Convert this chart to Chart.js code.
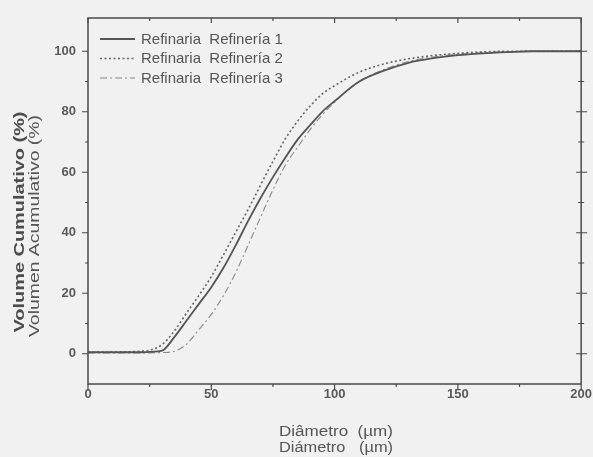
<!DOCTYPE html>
<html>
<head>
<meta charset="utf-8">
<script src="https://cdn.jsdelivr.net/npm/chart.js@4/dist/chart.umd.min.js"></script>
<style>
  html, body { margin: 0; padding: 0; background: #f1f1f1; }
  #wrap { width: 593px; height: 457px; position: relative; }
</style>
</head>
<body>
<div id="wrap"><canvas id="chart"></canvas></div>
<script>
// Data
const diameters = [0, 10, 20, 25, 30, 35, 40, 45, 50, 55, 60, 65, 70, 75, 80, 85, 90, 95, 100, 110, 120, 130, 140, 150, 160, 170, 180, 190, 200];
const refinery1 = [0.5, 0.5, 0.5, 0.6, 1.0, 5.5, 11, 16.5, 22, 28.5, 36, 44, 51.5, 58.4, 64.8, 70.8, 75.5, 80, 83.5, 90, 93.6, 96.2, 97.7, 98.7, 99.3, 99.7, 100, 100, 100];
const refinery2 = [0.6, 0.6, 0.8, 1.2, 3, 7.5, 13.5, 19.3, 25.5, 32.8, 40.3, 47.8, 55.8, 63.6, 71, 76.9, 81.8, 85.9, 88.6, 93.1, 95.8, 97.5, 98.6, 99.3, 99.8, 100, 100, 100, 100];
const refinery3 = [0.3, 0.3, 0.3, 0.3, 0.4, 0.8, 3.2, 8, 13, 19.3, 27, 36, 45.2, 54.2, 62.3, 68.3, 74, 79, 83.2, 90, 94, 96.6, 98.1, 99, 99.5, 99.8, 100, 100, 100];
const seriesLabels = ["Refinaria  Refinería 1", "Refinaria  Refinería 2", "Refinaria  Refinería 3"];
const yTitleLines = ["Volume Cumulativo (%)", "Volumen Acumulativo (%)"];
const xTitleLines = ["Diâmetro  (µm)", "Diámetro   (µm)"];
const xTicks = [0, 50, 100, 150, 200];
const xMinor = [25, 75, 125, 175];
const yTicks = [0, 20, 40, 60, 80, 100];
const yMinor = [10, 30, 50, 70, 90];

const FONT = "'Liberation Sans', Arial, sans-serif";
const INK = "#4a4a4a";

function points(values) {
    return diameters.map((d, i) => ({ x: d, y: values[i] }));
}

// text stretched to a given length (the source figure's lettering is wide)
function stretchedText(ctx, text, cx, cy, length, rotate) {
    ctx.save();
    ctx.translate(cx, cy);
    if (rotate) ctx.rotate(-Math.PI / 2);
    const w = ctx.measureText(text).width;
    ctx.scale(length / w, 1);
    ctx.textAlign = "center";
    ctx.textBaseline = "middle";
    ctx.fillText(text, 0, 0);
    ctx.restore();
}

// frame, ticks on all four sides, y title and the inset legend
const framePlugin = {
    id: "frame",
    afterDraw(chart) {
        const { ctx, chartArea: a, scales } = chart;
        const xs = scales.x, ys = scales.y;
        ctx.save();
        ctx.strokeStyle = INK;
        ctx.lineWidth = 1.5;
        ctx.strokeRect(a.left, a.top, a.right - a.left, a.bottom - a.top);

        ctx.lineWidth = 1.2;
        ctx.beginPath();
        xTicks.forEach(v => {
            const px = xs.getPixelForValue(v);
            ctx.moveTo(px, a.bottom); ctx.lineTo(px, a.bottom + 6);
            ctx.moveTo(px, a.top); ctx.lineTo(px, a.top + 5);
        });
        xMinor.forEach(v => {
            const px = xs.getPixelForValue(v);
            ctx.moveTo(px, a.bottom); ctx.lineTo(px, a.bottom + 3);
            ctx.moveTo(px, a.top); ctx.lineTo(px, a.top + 3);
        });
        yTicks.forEach(v => {
            const py = ys.getPixelForValue(v);
            ctx.moveTo(a.left - 6, py); ctx.lineTo(a.left, py);
            ctx.moveTo(a.right - 5, py); ctx.lineTo(a.right + 6, py);
        });
        yMinor.forEach(v => {
            const py = ys.getPixelForValue(v);
            ctx.moveTo(a.left - 3, py); ctx.lineTo(a.left, py);
            ctx.moveTo(a.right - 3, py); ctx.lineTo(a.right + 3, py);
        });
        ctx.stroke();

        // y title, two lines
        ctx.fillStyle = "#4d4d4d";
        ctx.font = "bold 14px " + FONT;
        stretchedText(ctx, yTitleLines[0], 20, 222, 221, true);
        ctx.fillStyle = "#555";
        ctx.font = "14px " + FONT;
        stretchedText(ctx, yTitleLines[1], 35, 226, 222, true);

        // x title, two lines
        ctx.font = "14px " + FONT;
        stretchedText(ctx, xTitleLines[0], 336, 432, 114, false);
        stretchedText(ctx, xTitleLines[1], 336, 448, 114, false);

        // legend
        chart.data.datasets.forEach((ds, i) => {
            const y = a.top + 21 + i * 19.5;
            ctx.strokeStyle = ds.borderColor;
            ctx.lineWidth = ds.borderWidth;
            ctx.setLineDash(ds.borderDash || []);
            ctx.beginPath();
            ctx.moveTo(a.left + 12, y);
            ctx.lineTo(a.left + 47, y);
            ctx.stroke();
            ctx.setLineDash([]);
            ctx.fillStyle = "#555";
            ctx.font = "15px " + FONT;
            ctx.textBaseline = "middle";
            ctx.textAlign = "left";
            ctx.fillText(ds.label, a.left + 53, y + 0.5);
        });
        ctx.restore();
    }
};

const ctx = document.getElementById("chart").getContext("2d");
new Chart(ctx, {
    type: "line",
    data: {
        datasets: [
            { label: seriesLabels[0], data: points(refinery1), borderColor: "#555", borderWidth: 1.8, borderDash: [] },
            { label: seriesLabels[1], data: points(refinery2), borderColor: "#666", borderWidth: 1.6, borderDash: [2, 2.5] },
            { label: seriesLabels[2], data: points(refinery3), borderColor: "#8a8a8a", borderWidth: 1.1, borderDash: [7, 3, 2, 3] }
        ]
    },
    options: {
        responsive: true,
        maintainAspectRatio: false,
        animation: false,
        layout: { padding: { top: 18, right: 10, left: 0, bottom: 0 } },
        elements: {
            point: { radius: 0 },
            line: { cubicInterpolationMode: "monotone", fill: false }
        },
        plugins: { legend: { display: false }, tooltip: { enabled: false } },
        scales: {
            x: {
                type: "linear",
                min: 0,
                max: 200,
                afterBuildTicks: s => { s.ticks = xTicks.map(value => ({ value })); },
                afterFit: s => { s.height = 73; },
                grid: { drawOnChartArea: false, drawTicks: true, tickLength: 2, color: "transparent" },
                border: { display: false },
                ticks: { color: "#5a5a5a", padding: 1, maxRotation: 0, font: { family: FONT, size: 13, weight: "bold" } },
                title: { display: false }
            },
            y: {
                type: "linear",
                min: -10,
                max: 111,
                afterBuildTicks: s => { s.ticks = yTicks.map(value => ({ value })); },
                afterFit: s => { s.width = 88; },
                grid: { drawOnChartArea: false, drawTicks: true, tickLength: 6, color: "transparent" },
                border: { display: false },
                ticks: { color: "#5a5a5a", padding: 6, font: { family: FONT, size: 13, weight: "bold" } },
                title: { display: false }
            }
        }
    },
    plugins: [framePlugin]
});
</script>
</body>
</html>
